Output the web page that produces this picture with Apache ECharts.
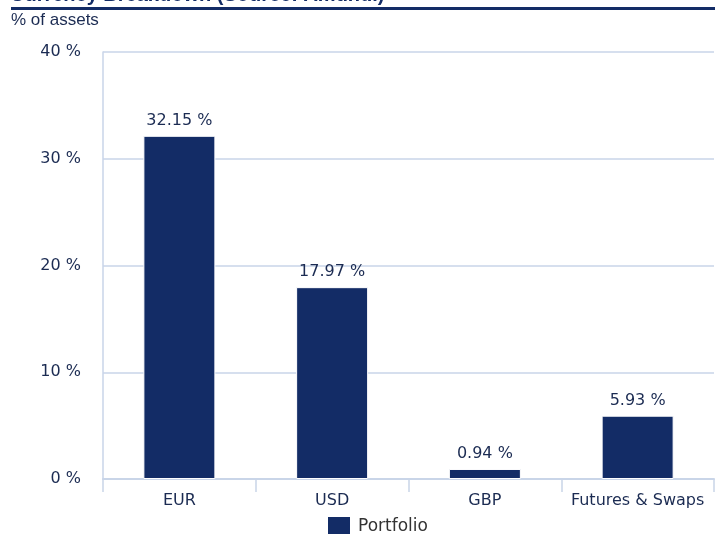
<!DOCTYPE html>
<html><head><meta charset="utf-8">
<script src="https://cdn.jsdelivr.net/npm/echarts@6/dist/echarts.min.js"></script>
<style>html,body{margin:0;padding:0;background:#fff;}#c{width:715px;height:534px;}</style>
</head><body><div id="c"></div>
<script>
const categories = ['EUR', 'USD', 'GBP', 'Futures & Swaps'];
const portfolio = [32.15, 17.97, 0.94, 5.93];
const seriesName = 'Portfolio';
const yTicks = [0, 10, 20, 30, 40];

const chart = echarts.init(document.getElementById('c'));
const navy = '#132c66';
const txt = '#1b2b52';
const lineC = '#c9d5e8';
chart.setOption({
  animation: false,
  backgroundColor: '#fff',
  title: {
    text: 'Currency Breakdown (Source: Amundi)',
    left: 10, top: -15, padding: 0,
    textStyle: {fontFamily: 'Liberation Sans', fontSize: 20, fontWeight: 'bold', color: navy}
  },
  graphic: [
    {type: 'rect', shape: {x: 11, y: 7, width: 704, height: 3}, style: {fill: navy}},
    {type: 'text', left: 11, top: 12, style: {text: '% of assets', font: '17px "Liberation Sans"', fill: txt}}
  ],
  grid: {left: 103, right: 1, top: 52, bottom: 55, containLabel: false},
  legend: {
    top: 515, left: 326, padding: 0,
    itemWidth: 24, itemHeight: 22, itemGap: 6,
    data: [seriesName],
    textStyle: {fontFamily: 'DejaVu Sans', fontSize: 17, color: '#333', padding: [0, 0, 0, 2]},
    icon: 'rect'
  },
  xAxis: {
    type: 'category', data: categories,
    axisLine: {lineStyle: {color: lineC, width: 2}},
    axisTick: {show: true, length: 13, lineStyle: {color: lineC, width: 1.5}},
    axisLabel: {interval: 0, fontFamily: 'DejaVu Sans', fontSize: 16, color: txt, margin: 14}
  },
  yAxis: {
    type: 'value', min: yTicks[0], max: yTicks[yTicks.length - 1], interval: 10,
    axisLine: {show: true, lineStyle: {color: lineC, width: 1.5}},
    axisTick: {show: false},
    splitLine: {lineStyle: {color: lineC, width: 1.5}},
    axisLabel: {formatter: '{value} %', fontFamily: 'DejaVu Sans', fontSize: 16, color: txt, margin: 22}
  },
  series: [{
    name: seriesName, type: 'bar', data: portfolio, barWidth: 72,
    itemStyle: {color: navy, borderColor: '#fff', borderWidth: 1},
    label: {show: true, position: 'top', distance: 7, formatter: p => p.value.toFixed(2) + ' %',
      fontFamily: 'DejaVu Sans', fontSize: 16, color: txt}
  }]
});
</script></body></html>
